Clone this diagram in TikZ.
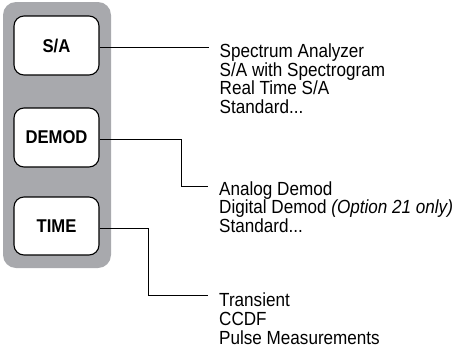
\documentclass[tikz,border=0pt]{standalone}
\usepackage{fontspec}
\setmainfont[FakeStretch=0.9]{Liberation Sans}
\usetikzlibrary{positioning}
\definecolor{panelgray}{RGB}{168,169,173}

\begin{document}
\begin{tikzpicture}[x=1pt, y=-1pt,
    keybtn/.style={draw=black, line width=1.1pt, fill=white, rounded corners=10pt,
        minimum width=85pt, minimum height=59pt, inner sep=0pt,
        font=\fontsize{18.5}{22}\selectfont\bfseries},
    menuitem/.style={anchor=base west, inner sep=0pt, font=\fontsize{19}{22}\selectfont},
    link/.style={draw=black, line width=0.8pt}]
    \useasboundingbox (0,0) rectangle (459,360);

    % Front panel with keys
    \fill[panelgray, rounded corners=13pt] (3,2) rectangle (111,268);
    \node[keybtn] (sa) at (56.5,45.5) {S/A};
    \node[keybtn] (demod) at (56.5,137.5) {DEMOD};
    \node[keybtn, minimum height=58pt] (time) at (56.5,226) {TIME};

    % Menu lists
    \foreach \i/\txt in {0/{Spectrum Analyzer}, 1/{S/A with Spectrogram}, 2/{Real Time S/A}, 3/{Standard...}}
        \node[menuitem] (saitem\i) at (219.5, 57.5+\i*18.7) {\txt};
    \foreach \i/\txt in {0/{Analog Demod}, 1/{Digital Demod \textit{(Option 21 only)}}, 2/{Standard...}}
        \node[menuitem] (dmitem\i) at (219, 195+\i*18.7) {\txt};
    \foreach \i/\txt in {0/{Transient}, 1/{CCDF}, 2/{Pulse Measurements}}
        \node[menuitem] (tmitem\i) at (219, 306.7+\i*18.7) {\txt};

    % Connectors
    \coordinate (saend) at (209,47.5);
    \coordinate (dmend) at (208,186.7);
    \coordinate (tmend) at (208,295);
    \draw[link] ([yshift=-2pt]sa.east) -- (saend);
    \draw[link] ([yshift=-1.5pt]demod.east) -- ++(81.5,0) |- (dmend);
    \draw[link] ([yshift=-2pt]time.east) -- ++(48.5,0) |- (tmend);
\end{tikzpicture}
\end{document}
